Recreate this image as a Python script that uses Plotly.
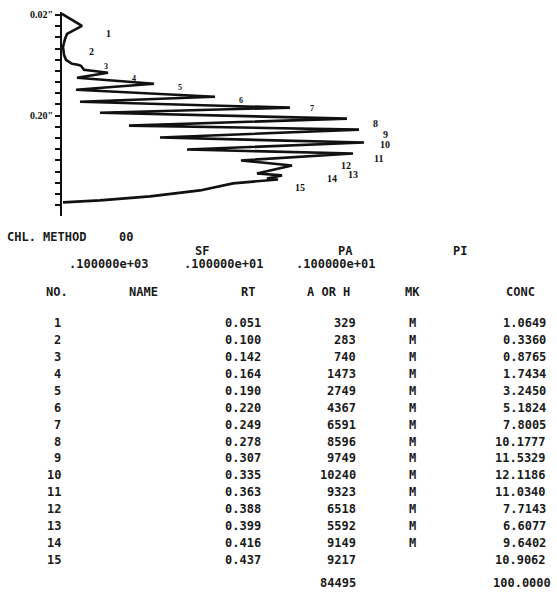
import plotly.graph_objects as go

W, H = 557, 604

# ---- chromatogram trace (time in min, signal in arbitrary units)
trace_time = [0.018, 0.0396, 0.0539, 0.0628, 0.0770, 0.0913, 0.1002, 0.1073, 0.1091, 0.1109,
              0.1180, 0.1216, 0.1234, 0.1323, 0.1430, 0.1537, 0.1661, 0.1751, 0.1857, 0.1947,
              0.2053, 0.2178, 0.2250, 0.2392, 0.2481, 0.2606, 0.2677, 0.2802, 0.2891, 0.3034,
              0.3069, 0.3123, 0.3141, 0.3212, 0.3337, 0.3444, 0.3515, 0.3551]
trace_signal = [0, 20, 5, 3, 1, 2, 4, 10, 16, 19,
                22, 38, 46, 15, 92, 14, 153, 18, 228, 38,
                285, 67, 297, 98, 302, 125, 291, 179, 230, 195,
                220, 205, 216, 171, 138, 88, 38, 1]

# peak labels written on the chart (label, time, signal)
label_text = ["1", "2", "3", "4", "5", "6", "7", "8", "9", "10", "11", "12", "13", "14", "15"]
label_time = [0.0539, 0.0860, 0.1127, 0.1341, 0.1501, 0.1733, 0.1876, 0.2142, 0.2338, 0.2517,
              0.2766, 0.2900, 0.3060, 0.3123, 0.3284]
label_signal = [46, 29, 44, 72, 118, 179, 250, 313, 323, 323, 316, 284, 291, 270, 238]

# y-axis ticks
tick_vals = [0.02, 0.04, 0.06, 0.08, 0.10, 0.12, 0.14, 0.16, 0.18, 0.20,
             0.22, 0.24, 0.26, 0.28, 0.30, 0.32, 0.34, 0.36]
tick_text = ['<b>0.02"</b>', "", "", "", "", "", "", "", "", '<b>0.20"</b>',
             "", "", "", "", "", "", "", ""]

# ---- printed report
method_title = "CHL. METHOD"
method_no = "00"
param_names = ["SF", "PA", "PI"]
param_values = [".100000e+03", ".100000e+01", ".100000e+01"]
col_headers = ["NO.", "NAME", "RT", "A OR H", "MK", "CONC"]
peak_no = [1, 2, 3, 4, 5, 6, 7, 8, 9, 10, 11, 12, 13, 14, 15]
peak_name = [""] * 15
peak_rt = ["0.051", "0.100", "0.142", "0.164", "0.190", "0.220", "0.249", "0.278",
           "0.307", "0.335", "0.363", "0.388", "0.399", "0.416", "0.437"]
peak_area = [329, 283, 740, 1473, 2749, 4367, 6591, 8596, 9749, 10240, 9323, 6518, 5592, 9149, 9217]
peak_mk = ["M", "M", "M", "M", "M", "M", "M", "M", "M", "M", "M", "M", "M", "M", ""]
peak_conc = ["1.0649", "0.3360", "0.8765", "1.7434", "3.2450", "5.1824", "7.8005", "10.1777",
             "11.5329", "12.1186", "11.0340", "7.7143", "6.6077", "9.6402", "10.9062"]
total_area = "84495"
total_conc = "100.0000"


def px(x):
    return x / W


def py(y):
    return 1 - y / H


fig = go.Figure()
fig.add_trace(go.Scatter(x=trace_signal, y=trace_time, mode="lines",
                         line=dict(color="#111111", width=2.6), hoverinfo="skip",
                         showlegend=False))

SERIF = "Liberation Serif"
MONO = "DejaVu Sans Mono"
ann = []
for i, (t, tm, sg) in enumerate(zip(label_text, label_time, label_signal)):
    small = 2 <= i <= 6
    ann.append(dict(x=sg, y=tm, xref="x", yref="y", text="<b>%s</b>" % t, showarrow=False,
                    font=dict(family=SERIF, size=8 if small else 10, color="#111111")))

FS = 12


def txt(x, y, s, anchor="left", size=FS):
    ann.append(dict(x=px(x), y=py(y), xref="paper", yref="paper", text="<b>%s</b>" % s,
                    showarrow=False, xanchor=anchor, yanchor="middle",
                    font=dict(family=MONO, size=size, color="#1a1a1a")))


txt(5, 236, method_title)
txt(117, 236, method_no)
for name, xr in zip(param_names, [211, 355, 469]):
    txt(xr, 250, name, "right")
for val, xr in zip(param_values, [150, 265, 377]):
    txt(xr, 263, val, "right")

for h, xl in zip(col_headers, [44, 127, 239, 305, 403, 504]):
    txt(xl, 291, h)

row_y0, row_dy = 322, 17.0
for i in range(len(peak_no)):
    y = row_y0 + i * row_dy
    txt(63, y, str(peak_no[i]), "right")
    txt(263, y, peak_rt[i], "right")
    txt(358, y, str(peak_area[i]), "right")
    txt(412, y, peak_mk[i], "center")
    txt(548, y, peak_conc[i], "right")

txt(358, 583, total_area, "right")
txt(553, 583, total_conc, "right")

fig.update_layout(
    width=W, height=H, margin=dict(l=0, r=0, t=0, b=0),
    paper_bgcolor="white", plot_bgcolor="white",
    annotations=ann,
    xaxis=dict(domain=[px(62), 1], range=[0, 495], visible=False),
    yaxis=dict(domain=[py(215), py(10)], range=[0.38, 0.0146],
               showline=True, linecolor="#111111", linewidth=2,
               ticks="outside", ticklen=5, tickwidth=1.5, tickcolor="#111111",
               tickvals=tick_vals, ticktext=tick_text, showgrid=False, zeroline=False,
               tickfont=dict(family=SERIF, size=10, color="#111111")),
)

fig.write_html("out.html", config={"displayModeBar": False},
               post_script="document.body.style.margin='0px';document.body.style.overflow='hidden';")
